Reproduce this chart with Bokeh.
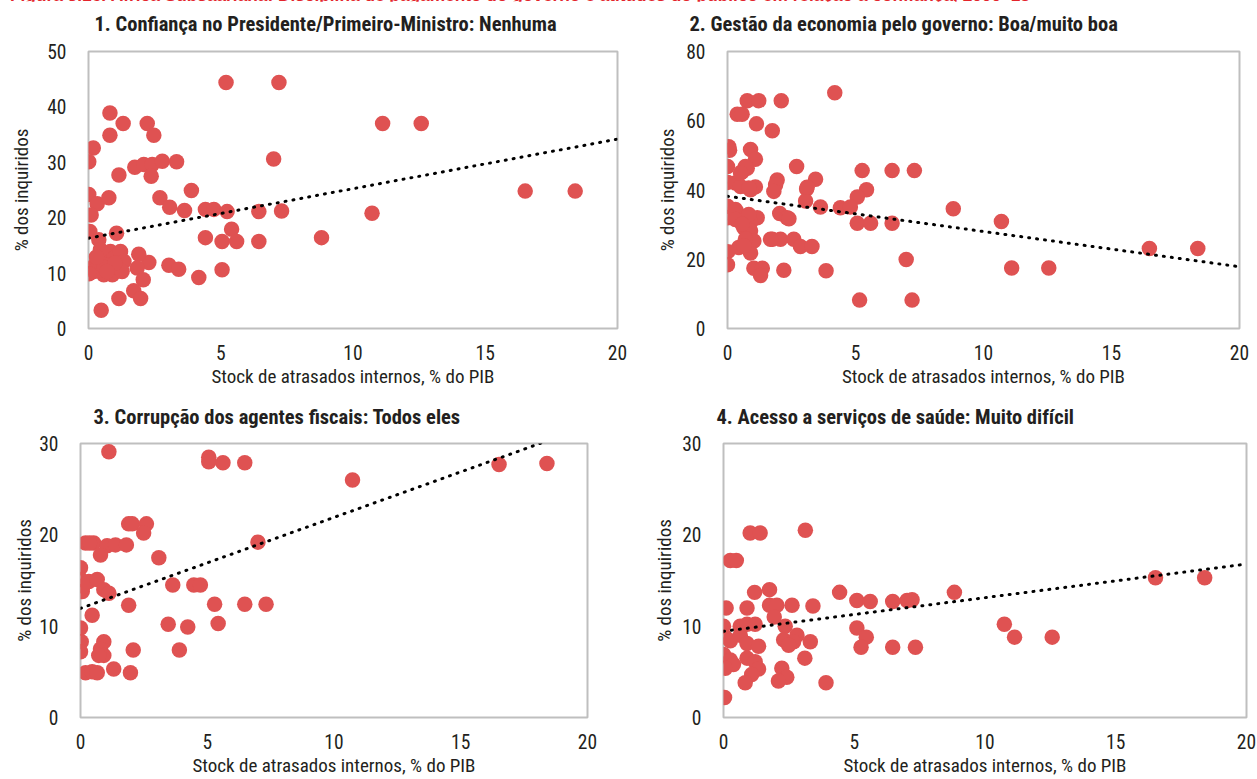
from bokeh.plotting import figure
from bokeh.layouts import column, row
from bokeh.models import Range1d, FixedTicker, Div, Title
from bokeh.embed import file_html
from bokeh.resources import INLINE

# ---- data: stock of domestic arrears (% of GDP) vs. survey answers (% of respondents)
p1_x = [5.2, 7.2, 0.81, 1.31, 2.22, 2.47, 0.81, 0.18, 0.01, 1.75, 2.09, 2.41, 2.79, 3.33,
        2.37, 1.15, 7.0, 3.89, 2.70, 3.07, 3.63, 4.42, 4.74, 5.24, 6.44, 7.3, 0.01, 0.33,
        0.77, 0.1, 0.05, 1.06, 0.39, 4.42, 5.41, 5.05, 5.6, 6.44, 4.17, 5.05, 3.04, 3.41,
        2.28, 1.9, 1.84, 2.07, 1.71, 1.97, 1.15, 0.48, 8.81, 10.72, 11.12, 12.58, 16.51,
        18.4, 0.08, 0.26, 0.45, 0.64, 0.83, 0.96, 1.21, 1.34, 1.08, 0.9, 0.58, 0.2, 0.02,
        0.77, 1.27, 0.45, 0.6, 1.0, 0.3, 0.7]
p1_y = [44.4, 44.4, 38.9, 37.0, 37.0, 34.9, 34.9, 32.6, 30.1, 29.1, 29.6, 29.6, 30.2, 30.1,
        27.5, 27.7, 30.6, 24.9, 23.6, 21.9, 21.3, 21.5, 21.5, 21.1, 21.1, 21.2, 24.2, 22.5,
        23.6, 20.5, 17.5, 17.2, 16.0, 16.4, 17.9, 15.7, 15.7, 15.7, 9.2, 10.6, 11.4, 10.7,
        11.9, 13.4, 10.9, 8.8, 6.8, 5.4, 5.4, 3.3, 16.4, 20.8, 37.0, 37.0, 24.8,
        24.8, 10.9, 11.5, 12.1, 13.3, 13.9, 12.7, 13.9, 12.1, 10.9, 9.7, 9.7, 10.3, 9.9,
        11.5, 10.3, 14.2, 11.0, 11.8, 12.9, 10.3]

p2_x = [4.19, 0.77, 1.22, 2.1, 0.38, 0.57, 1.13, 1.75, 0.05, 0.08, 0.9, 1.09, 0.0, 2.7,
        5.26, 6.43, 7.3, 0.77, 0.57, 3.44, 1.94, 1.88, 0.01, 0.31, 0.51, 1.09, 0.9, 3.09,
        5.43, 5.07, 1.81, 3.05, 3.63, 4.41, 4.8, 0.0, 8.82, 0.01, 0.38, 0.77, 1.16, 0.51,
        0.9, 2.04, 2.33, 2.4, 5.07, 5.59, 6.43, 0.64, 0.9, 0.77, 1.03, 1.75, 2.07, 2.59,
        2.85, 3.3, 0.44, 0.01, 0.9, 0.0, 1.03, 1.36, 1.29, 2.2, 3.85, 6.98, 5.16, 7.21,
        10.7, 11.1, 12.55, 16.48, 18.37, 0.31, 0.31, 0.83, 0.57, 0.7, 0.64, 0.7, 0.51,
        1.68, 3.11, 0.83]
p2_y = [68.1, 65.8, 65.8, 65.8, 61.9, 61.9, 59.1, 57.1, 52.5, 51.5, 51.7, 48.9, 46.8, 46.8,
        45.6, 45.6, 45.6, 46.3, 45.3, 43.1, 42.9, 41.5, 42.2, 42.0, 41.0, 40.9, 40.1, 40.3,
        40.1, 38.0, 39.6, 36.8, 35.1, 34.9, 35.1, 35.3, 34.6, 32.0, 33.4, 32.5, 32.0, 31.1,
        30.6, 33.2, 32.0, 31.7, 30.4, 30.4, 30.4, 29.1, 28.2, 25.8, 25.3, 25.8, 25.8, 25.8,
        23.7, 23.7, 23.4, 22.2, 21.8, 18.4, 17.4, 17.4, 15.3, 16.8, 16.7, 19.9, 8.2, 8.2,
        30.9, 17.5, 17.5, 23.1, 23.1, 34.4, 31.5, 32.9, 30.1, 25.8, 23.9, 46.8, 44.9,
        25.8, 40.8, 40.6]

p3_x = [1.12, 5.06, 5.06, 5.62, 6.48, 1.9, 2.04, 2.6, 2.49, 0.2, 0.52, 1.05, 1.38, 1.81,
        0.79, 3.09, 7.0, 0.0, 0.0, 0.33, 0.66, 0.07, 0.92, 1.12, 3.64, 4.47, 4.73, 1.9,
        5.29, 6.48, 7.32, 0.46, 0.0, 3.46, 4.23, 5.43, 0.03, 0.0, 0.92, 0.79, 0.92, 0.72,
        2.08, 3.9, 1.31, 0.2, 0.46, 0.66, 1.97, 10.73, 16.51, 18.4, 0.36, 0.1]
p3_y = [29.1, 28.5, 28.0, 27.9, 27.9, 21.2, 21.2, 21.2, 20.2, 19.1, 19.1, 18.8, 18.9, 18.9,
        17.8, 17.5, 19.2, 16.4, 15.1, 14.9, 15.1, 13.8, 14.0, 13.6, 14.5, 14.5, 14.5, 12.3,
        12.4, 12.4, 12.4, 11.2, 9.8, 10.2, 9.9, 10.3, 8.3, 7.2, 8.3, 7.5, 6.8, 6.8,
        7.4, 7.4, 5.3, 4.9, 5.0, 4.9, 4.9, 26.0, 27.7, 27.8, 19.1, 14.4]

p4_x = [3.13, 1.02, 1.4, 0.26, 0.49, 1.76, 4.44, 1.19, 5.1, 5.61, 6.47, 7.02, 7.21, 0.1,
        0.9, 1.76, 2.04, 2.62, 3.42, 1.94, 2.36, 0.0, 0.64, 0.9, 1.21, 5.1, 5.46, 0.07,
        0.26, 0.64, 2.3, 2.81, 2.68, 2.49, 3.32, 0.9, 1.34, 5.26, 6.47, 7.34, 0.0, 0.26,
        0.38, 0.07, 0.9, 1.21, 1.34, 1.08, 3.11, 2.23, 2.42, 2.1, 0.83, 3.92, 0.04, 8.83,
        10.74, 11.13, 12.57, 16.52, 18.4]
p4_y = [20.5, 20.2, 20.2, 17.2, 17.2, 14.0, 13.7, 13.7, 12.8, 12.7, 12.7, 12.8, 12.9, 12.0,
        12.0, 12.3, 12.3, 12.3, 12.2, 11.0, 10.0, 10.0, 10.0, 10.2, 10.2, 9.8, 8.8, 8.8,
        8.4, 9.0, 8.5, 9.0, 8.3, 7.9, 8.3, 8.1, 7.8, 7.7, 7.7, 7.7, 6.9, 6.3,
        5.8, 5.4, 6.5, 6.1, 5.3, 4.7, 6.5, 5.4, 4.4, 4.0, 3.8, 3.8, 2.2, 13.7,
        10.2, 8.8, 8.8, 15.3, 15.3]

# linear trend lines (intercept, slope)
trend_intercept = [16.3, 38.2, 11.95, 9.44]
trend_slope = [0.894, -1.018, 0.996, 0.368]

titles = ["1. Confiança no Presidente/Primeiro-Ministro: Nenhuma",
          "2. Gestão da economia pelo governo: Boa/muito boa",
          "3. Corrupção dos agentes fiscais: Todos eles",
          "4. Acesso a serviços de saúde: Muito difícil"]
y_max = [50, 80, 30, 30]
y_step = [10, 20, 10, 10]
x_ticks = [0, 5, 10, 15, 20]
x_label = "Stock de atrasados internos, % do PIB"
y_label = "% dos inquiridos"
header = ("Figura 3.16. África Subsaariana: Disciplina de pagamento do governo e "
          "atitudes do público em relação à confiança, 2000–18")

FONT = "Liberation Sans Narrow, Arial Narrow, Roboto Condensed, sans-serif"
DOT = "#DF5252"
TXT = "#231F20"


def panel(i, xs, ys, w, h, bl, br, bt, bb, t_off, gap, ylab_gap):
    p = figure(width=w, height=h, output_backend="svg", toolbar_location=None,
               x_range=Range1d(0, 20), y_range=Range1d(0, y_max[i]),
               min_border_left=bl, min_border_right=br,
               min_border_top=bt, min_border_bottom=bb)

    # blank strip that keeps the heading clear of the plot frame
    p.add_layout(Title(text=" ", text_font_size="1px", standoff=gap), "above")

    p.title.text = titles[i]
    p.title.align = "left"
    p.title.offset = t_off
    p.title.standoff = 10
    p.title.text_font = FONT
    p.title.text_font_size = "20.5px"
    p.title.text_font_style = "bold"
    p.title.text_color = TXT

    p.outline_line_color = "#BFBFBF"
    p.outline_line_width = 2
    p.xgrid.visible = False
    p.ygrid.visible = False

    p.xaxis.ticker = FixedTicker(ticks=x_ticks)
    p.yaxis.ticker = FixedTicker(ticks=list(range(0, y_max[i] + 1, y_step[i])))
    for ax in (p.xaxis[0], p.yaxis[0]):
        ax.axis_line_color = None
        ax.major_tick_line_color = None
        ax.minor_tick_line_color = None
        ax.major_label_text_font = FONT
        ax.major_label_text_font_size = "19.5px"
        ax.major_label_text_color = TXT
        ax.axis_label_text_font = FONT
        ax.axis_label_text_font_size = "19px"
        ax.axis_label_text_font_style = "normal"
        ax.axis_label_text_color = TXT
    p.xaxis.axis_label = x_label
    p.yaxis.axis_label = y_label
    p.xaxis.major_label_standoff = 10
    p.yaxis.major_label_standoff = 16
    p.xaxis.axis_label_standoff = 2
    p.yaxis.axis_label_standoff = ylab_gap

    p.scatter(xs, ys, size=15.5, fill_color=DOT, line_color=None)
    x_end = [0, 20]
    y_end = [trend_intercept[i] + trend_slope[i] * v for v in x_end]
    p.line(x_end, y_end, line_color="black", line_width=3, line_dash="1 7",
           line_cap="round")
    return p


f1 = panel(0, p1_x, p1_y, 640, 389, 88, 23, 50, 61, 6, 8, 11)
f2 = panel(1, p2_x, p2_y, 617, 389, 87, 18, 50, 61, -38, 8, 4)
f3 = panel(2, p3_x, p3_y, 630, 389, 80, 43, 53, 62, 13, 7, 0)
f4 = panel(3, p4_x, p4_y, 627, 389, 93, 11, 53, 62, -7, 7, 3)

top = Div(width=1257, height=1, margin=(0, 0, 0, 0), text=(
    '<div style="position:absolute; top:-17px; left:10px; white-space:nowrap; '
    'color:#E3242B; font-weight:bold; font-size:17.3px; '
    'font-family:\'Liberation Sans\', Arial, sans-serif;">'
    + header + '</div>'))

layout = column(top, row(f1, f2), row(f3, f4))

with open("out.html", "w") as fh:
    fh.write(file_html(layout, INLINE))
